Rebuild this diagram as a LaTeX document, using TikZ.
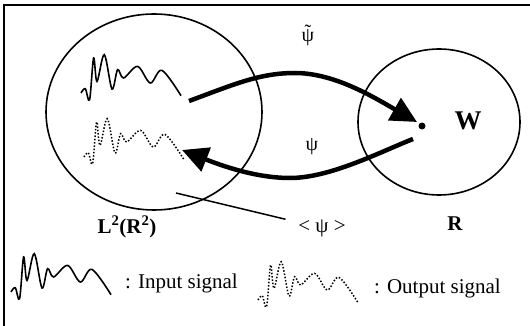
\documentclass[tikz,border=0pt]{standalone}
\usepackage{fontspec}
\setmainfont{Liberation Serif}
\usetikzlibrary{arrows.meta}
\newcommand\pxfont[1]{\fontsize{#1}{#1}\selectfont}
\newcommand\psitil{\accent"02DC ψ}
\tikzset{
  frameline/.style={line width=2pt},
  setline/.style={line width=1.6pt},
  bigarrow/.style={line width=4.5pt,-{Triangle[length=26pt,width=25pt]}},
  sigsolid/.style={line width=1.6pt},
  sigdotted/.style={line width=1.5pt,dash pattern=on 1.5pt off 1.8pt},
  lbl/.style={inner sep=1pt,font=\pxfont{20}},
  boldlbl/.style={inner sep=1pt,font=\pxfont{21}\bfseries},
  pics/wave/.style={code={
    \draw[#1] plot[smooth,tension=0.55] coordinates {(0,0) (4.3,-4.3) (8.6,6.7) (12.6,-35) (16,-11.6) (23.3,-38.3) (31,-4) (36.6,-23.3) (42.6,-15) (56.6,-26.6) (69.3,-10) (81,-22.6) (100,2.7)};
  }}
}
\begin{document}
\begin{tikzpicture}[x=1pt,y=-1pt]
\useasboundingbox (0,0) rectangle (530,326);
\clip (0,0) rectangle (530,326);
\draw[frameline] (4,5) rectangle (545,345);
% sets
\draw[setline] (154,112) ellipse [x radius=108, y radius=98];
\draw[setline] (439,122) ellipse [x radius=81, y radius=73];
% signals inside L2
\pic at (81,93) {wave=sigsolid};
\pic at (84,157) {wave=sigdotted};
% point in R
\node[circle,fill=black,inner sep=0pt,minimum size=7pt] (dot) at (422,126) {};
\node[font=\pxfont{27}\bfseries,inner sep=1pt] (W) at (468,121) {W};
% arrows
\coordinate (a1s) at (189,101);
\coordinate (a1m) at (295,73);
\coordinate (a1e) at (417,122);
\draw[bigarrow] (a1s) .. controls (235,84) and (260,73) .. (a1m) .. controls (335,73) and (375,98) .. (a1e);
\coordinate (a2s) at (413,139);
\coordinate (a2m) at (290,178);
\coordinate (a2e) at (182,150);
\draw[bigarrow] (a2s) .. controls (380,152) and (330,178) .. (a2m) .. controls (255,178) and (220,165) .. (a2e);
% labels
\node[lbl] (psit) at (308,35) {\psitil};
\node[lbl] (psi) at (312,147) {ψ};
\node[lbl,font=\pxfont{21}] (ang) at (322,228) {< ψ >};
\coordinate (ptr) at (176,193);
\draw[line width=1.5pt,shorten <=12pt] (ang) -- (ptr);
\node[boldlbl,anchor=base] (L2) at (127,233) {L\textsuperscript{2}(R\textsuperscript{2})};
\node[boldlbl,anchor=base] (R) at (455,230) {R};
% legend
\pic at (11,292) {wave=sigsolid};
\node[lbl,font=\pxfont{21},anchor=base west,inner sep=0pt] (inl) at (125,288) {: Input signal};
\pic at (258,300) {wave=sigdotted};
\node[lbl,font=\pxfont{21},anchor=base west,inner sep=0pt] (outl) at (374,293) {: Output signal};
\end{tikzpicture}
\end{document}
